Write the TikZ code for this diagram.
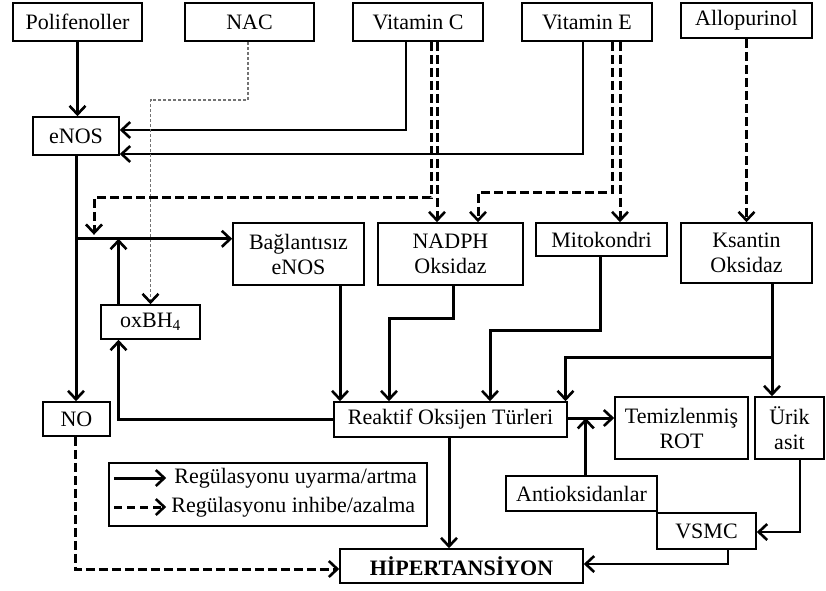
\documentclass[tikz,border=0pt]{standalone}
\usepackage{fontspec}
\setmainfont{Liberation Serif}
\usetikzlibrary{arrows.meta}
\begin{document}
\begin{tikzpicture}[x=1pt,y=-1pt,
  box/.style={draw, line width=1.6pt, inner sep=0pt, align=center, font=\fontsize{22}{25}\selectfont},
  arr/.style={-{Straight Barb[length=8.5pt,width=16pt,line width=2.6pt]}},
  strong/.style={line width=3pt, arr},
  weak/.style={line width=1.4pt, arr},
  dsh/.style={line width=3pt, dash pattern=on 9pt off 4pt, arr},
  grayd/.style={line width=1.8pt, draw=black!55, dash pattern=on 3pt off 2pt, -{Straight Barb[length=8.5pt,width=16pt,line width=2.6pt,color=black]}},
  lab/.style={anchor=west, inner sep=0pt, font=\fontsize{22}{25}\selectfont}
]
\useasboundingbox (0,0) rectangle (826,590);

% boxes
\node[box, minimum width=129pt, minimum height=38pt] (poli) at (77.5,22) {Polifenoller};
\node[box, minimum width=129pt, minimum height=38pt] (nac) at (249.5,22) {NAC};
\node[box, minimum width=130pt, minimum height=38pt] (vitc) at (418,22) {Vitamin C};
\node[box, minimum width=130pt, minimum height=38pt] (vite) at (587,22) {Vitamin E};
\node[box, minimum width=131pt, minimum height=35pt] (allo) at (746.5,20.5) {Allopurinol};
\node[box, minimum width=86pt, minimum height=38pt] (enos) at (76,136) {eNOS};
\node[box, minimum width=131pt, minimum height=62pt] (bag) at (298.5,254) {Bağlantısız\\eNOS};
\node[box, minimum width=145pt, minimum height=62pt] (nadph) at (450.5,254) {NADPH\\Oksidaz};
\node[box, minimum width=131pt, minimum height=33pt] (mito) at (601.5,239.5) {Mitokondri};
\node[box, minimum width=131pt, minimum height=60pt] (ksan) at (746.5,253) {Ksantin\\Oksidaz};
\node[box, minimum width=99pt, minimum height=34pt] (oxbh) at (150.5,322) {oxBH\textsubscript{4}};
\node[box, minimum width=67pt, minimum height=34pt] (no) at (76.5,419) {NO};
\node[box, minimum width=233pt, minimum height=35pt] (ros) at (450.5,419.5) {Reaktif Oksijen Türleri};
\node[box, minimum width=133pt, minimum height=62pt] (temiz) at (681.5,428) {Temizlenmiş\\ROT};
\node[box, minimum width=69pt, minimum height=62pt] (urik) at (789.5,428) {Ürik\\asit};
\node[box, minimum width=151pt, minimum height=35pt] (anti) at (581.5,493.5) {Antioksidanlar};
\node[box, minimum width=99pt, minimum height=36pt] (vsmc) at (706.5,531) {VSMC};
\node[box, minimum width=243pt, minimum height=34pt, font=\fontsize{22}{25}\selectfont\bfseries] (hiper) at (461.5,566) {HİPERTANSİYON};

% legend
\node[box, minimum width=318pt, minimum height=63pt] (legend) at (268,494.5) {};
\coordinate (l1a) at ([xshift=6pt,yshift=16.5pt]legend.west);
\coordinate (l1b) at ([xshift=58pt,yshift=16.5pt]legend.west);
\coordinate (l2a) at ([xshift=6pt,yshift=-12.5pt]legend.west);
\coordinate (l2b) at ([xshift=58pt,yshift=-12.5pt]legend.west);
\draw[strong] (l1a) -- (l1b);
\draw[line width=3pt, dash pattern=on 8pt off 5pt, arr] (l2a) -- (l2b);
\node[lab] (lt1) at ([xshift=8pt]l1b) {Regülasyonu uyarma/artma};
\node[lab] (lt2) at ([xshift=5pt]l2b) {Regülasyonu inhibe/azalma};

% junctions
\coordinate (bj) at ([yshift=-83pt]enos.south);
\coordinate (rj) at ([xshift=18pt,yshift=1.5pt]ros.east);

% connectors
\draw[strong] (poli.south) -- (poli.south |- enos.north);
\draw[weak] ([xshift=-12pt]vitc.south) |- ([yshift=6pt]enos.east);
\draw[weak] ([xshift=-4pt]vite.south) |- ([yshift=-18pt]enos.east);
\draw[grayd] ([xshift=-1.5pt]nac.south) -- ++(0,58) -| (oxbh.north);

\draw[dsh] ([xshift=13pt]vitc.south) -- ++(0,156) -| ([xshift=18pt,yshift=4pt]bj);
\draw[dsh] ([xshift=19pt]vitc.south) -- ([xshift=19pt]vitc.south |- nadph.north);
\draw[dsh] ([xshift=25pt]vite.south) -- ++(0,151) -| ([xshift=27.5pt]nadph.north);
\draw[dsh] ([xshift=33pt]vite.south) -- ([xshift=33pt]vite.south |- mito.north);
\draw[dsh] (allo.south) -- (allo.south |- ksan.north);

\draw[strong] (enos.south) -- (enos.south |- no.north);
\draw[strong] (bj) -- (bj -| bag.west);
\draw[strong] ([xshift=-32pt]oxbh.north) -- ([xshift=-32pt]oxbh.north |- bj);

\draw[strong] ([xshift=41.5pt]bag.south) -- ([xshift=41.5pt]bag.south |- ros.north);
\draw[strong] ([xshift=2.5pt]nadph.south) -- ++(0,33) -| ([xshift=-61.5pt]ros.north);
\draw[strong] ([xshift=-1.5pt]mito.south) -- ++(0,74) -| ([xshift=39.5pt]ros.north);
\draw[strong] ([xshift=25.5pt]ksan.south) -- ++(0,74) -| ([xshift=115pt]ros.north);
\draw[strong] ([xshift=25.5pt]ksan.south) -- ([xshift=25.5pt]ksan.south |- urik.north);

\draw[strong] (ros.west) -| ([xshift=-32pt]oxbh.south);
\draw[strong] ([yshift=1.5pt]ros.east) -- (rj -| temiz.west);
\draw[strong] (anti.north -| rj) -- (rj);
\draw[strong] ([xshift=-1.5pt]ros.south) -- ([xshift=-1.5pt]ros.south |- hiper.north);

\draw[dsh] ([xshift=-1.5pt]no.south) |- ([yshift=-3pt]hiper.west);
\draw[weak] ([xshift=10.5pt]urik.south) |- ([yshift=-1pt]vsmc.east);
\draw[weak] ([xshift=21.5pt]vsmc.south) |- ([yshift=2pt]hiper.east);
\end{tikzpicture}
\end{document}
